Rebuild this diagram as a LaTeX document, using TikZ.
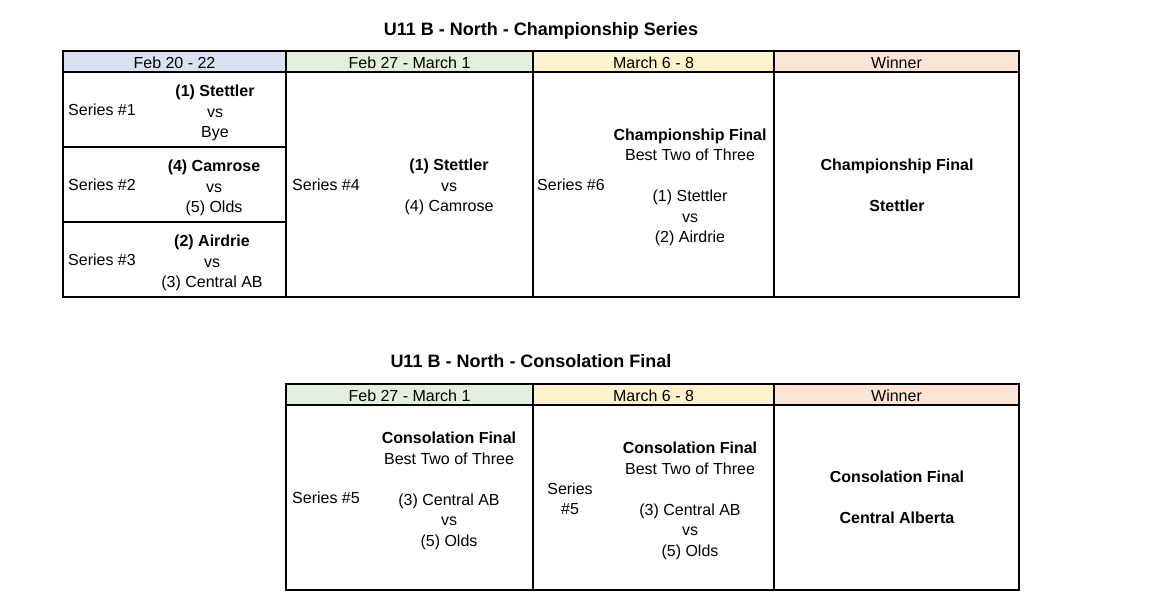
\documentclass[tikz,border=0pt]{standalone}
\usepackage{fontspec}
\setmainfont{Liberation Sans}
\definecolor{hblue}{HTML}{D9E1F2}
\definecolor{hgreen}{HTML}{E2EFDA}
\definecolor{hyellow}{HTML}{FFF2CC}
\definecolor{hpeach}{HTML}{FCE4D6}
\begin{document}
\begin{tikzpicture}[x=1pt,y=-1pt,
  txt/.style={font=\fontsize{16}{20.5}\selectfont, align=center, inner sep=0pt},
  ttl/.style={font=\fontsize{18}{22}\selectfont\bfseries, inner sep=0pt},
  gridline/.style={line width=1.7pt, line cap=rect}]
\useasboundingbox (0,0) rectangle (1151,601);
\fill[white] (0,0) rectangle (1151,601);
% ---------- Table 1 ----------
\node[ttl] (t1) at (541,31) {U11 B - North - Championship Series};
\fill[hblue]   (63,51)  rectangle (286,72);
\fill[hgreen]  (286,51) rectangle (533,72);
\fill[hyellow] (533,51) rectangle (774,72);
\fill[hpeach]  (774,51) rectangle (1019,72);
\draw[gridline] (63,51) rectangle (1019,297);
\draw[gridline] (63,72) -- (1019,72);
\draw[gridline] (286,51) -- (286,297);
\draw[gridline] (533,51) -- (533,297);
\draw[gridline] (774,51) -- (774,297);
\draw[gridline] (63,147) -- (286,147);
\draw[gridline] (63,222) -- (286,222);
\node[txt] (h1) at (174.5,63) {Feb 20 - 22};
\node[txt] (h2) at (409.5,63) {Feb 27 - March 1};
\node[txt] (h3) at (653.5,63) {March 6 - 8};
\node[txt] (h4) at (896.5,63) {Winner};
\node[txt, anchor=west] (s1) at (68,110) {Series \#1};
\node[txt] (m1) at (215,113) {\textbf{(1) Stettler}\\vs\\Bye};
\node[txt, anchor=west] (s2) at (68,185) {Series \#2};
\node[txt] (m2) at (214,188) {\textbf{(4) Camrose}\\vs\\(5) Olds};
\node[txt, anchor=west] (s3) at (68,260) {Series \#3};
\node[txt] (m3) at (212,263) {\textbf{(2) Airdrie}\\vs\\(3) Central AB};
\node[txt, anchor=west] (s4) at (292,185) {Series \#4};
\node[txt] (m4) at (449,187) {\textbf{(1) Stettler}\\vs\\(4) Camrose};
\node[txt, anchor=west] (s6) at (537,185) {Series \#6};
\node[txt] (m6) at (690,187.5) {\textbf{Championship Final}\\Best Two of Three\\[20.5pt](1) Stettler\\vs\\(2) Airdrie};
\node[txt] (w1) at (897,185) {\textbf{Championship Final}\\[20.5pt]\textbf{Stettler}};
% ---------- Table 2 ----------
\node[ttl] (t2) at (531,361) {U11 B - North - Consolation Final};
\fill[hgreen]  (286,384) rectangle (533,405);
\fill[hyellow] (533,384) rectangle (774,405);
\fill[hpeach]  (774,384) rectangle (1019,405);
\draw[gridline] (286,384) rectangle (1019,590);
\draw[gridline] (286,405) -- (1019,405);
\draw[gridline] (533,384) -- (533,590);
\draw[gridline] (774,384) -- (774,590);
\node[txt] (g2) at (409.5,396) {Feb 27 - March 1};
\node[txt] (g3) at (653.5,396) {March 6 - 8};
\node[txt] (g4) at (896.5,396) {Winner};
\node[txt, anchor=west] (s5a) at (292,498) {Series \#5};
\node[txt] (m5a) at (449,491) {\textbf{Consolation Final}\\Best Two of Three\\[20.5pt](3) Central AB\\vs\\(5) Olds};
\node[txt] (s5b) at (570,499) {Series\\\#5};
\node[txt] (m5b) at (690,501) {\textbf{Consolation Final}\\Best Two of Three\\[20.5pt](3) Central AB\\vs\\(5) Olds};
\node[txt] (w2) at (897,497) {\textbf{Consolation Final}\\[20.5pt]\textbf{Central Alberta}};
\end{tikzpicture}
\end{document}
